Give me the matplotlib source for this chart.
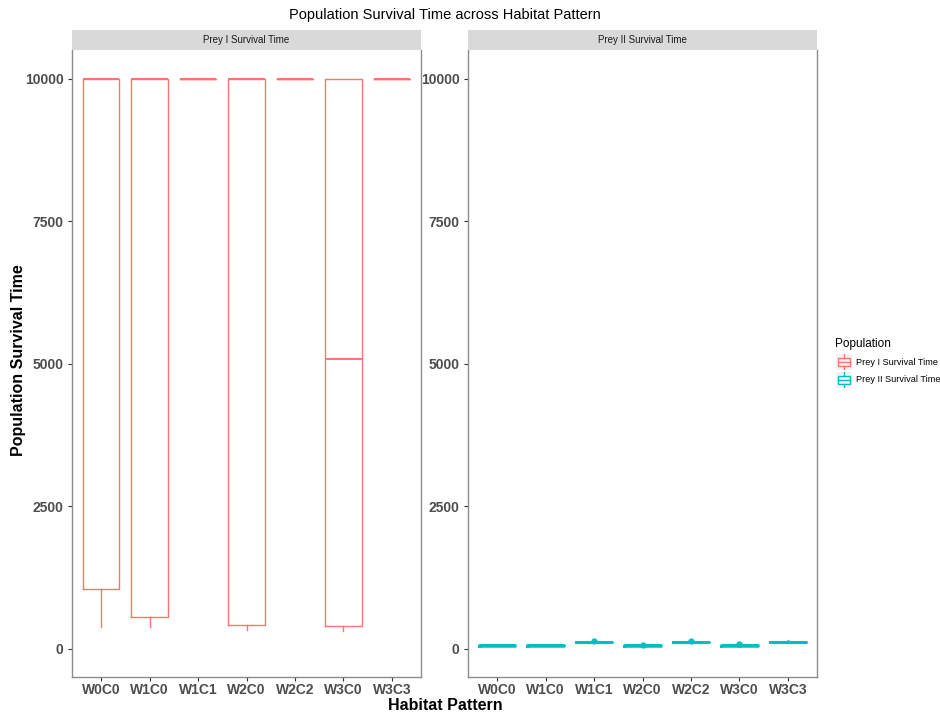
import matplotlib.pyplot as plt

plt.rcParams['font.family'] = ['Liberation Sans', 'DejaVu Sans']

# habitat patterns on the x axis
patterns = ["W0C0", "W1C0", "W1C1", "W2C0", "W2C2", "W3C0", "W3C3"]

# Prey I survival time: five-number summaries per pattern
prey1_low = [370, 370, 10000, 330, 10000, 310, 10000]
prey1_q1 = [1050, 560, 10000, 420, 10000, 400, 10000]
prey1_med = [10000, 10000, 10000, 10000, 10000, 5080, 10000]
prey1_q3 = [10000, 10000, 10000, 10000, 10000, 10000, 10000]
prey1_high = [10000, 10000, 10000, 10000, 10000, 10000, 10000]
prey1_out = [[], [], [], [], [], [], []]

# Prey II survival time
prey2_low = [50, 50, 110, 50, 110, 50, 115]
prey2_q1 = [52, 52, 112, 52, 112, 52, 118]
prey2_med = [55, 55, 115, 55, 115, 55, 120]
prey2_q3 = [58, 58, 118, 58, 118, 58, 122]
prey2_high = [60, 60, 120, 60, 120, 60, 125]
prey2_out = [[], [], [125], [60], [125], [80], []]

panel_titles = ["Prey I Survival Time", "Prey II Survival Time"]
colors = ["#F8766D", "#00BFC4"]

def make_stats(low, q1, med, q3, high, out):
    return [dict(whislo=a, q1=b, med=c, q3=d, whishi=e, fliers=f)
            for a, b, c, d, e, f in zip(low, q1, med, q3, high, out)]

series = [
    make_stats(prey1_low, prey1_q1, prey1_med, prey1_q3, prey1_high, prey1_out),
    make_stats(prey2_low, prey2_q1, prey2_med, prey2_q3, prey2_high, prey2_out),
]

fig = plt.figure(figsize=(9.4, 7.13), dpi=100)
W, H = 940, 713
panels = [(72, 421), (468, 817)]
top, bottom, strip_top = 50, 677, 30
tick_col = "#4D4D4D"
border_col = "#8C8C8C"

for i, ((x0, x1), stats) in enumerate(zip(panels, series)):
    ax = fig.add_axes([x0 / W, 1 - bottom / H, (x1 - x0) / W, (bottom - top) / H])
    c = colors[i]
    lw = 1.0 if i == 0 else 1.8
    ax.bxp(stats, positions=range(1, len(patterns) + 1), widths=0.75,
           showcaps=False,
           boxprops=dict(color=c, linewidth=lw),
           medianprops=dict(color=c, linewidth=lw + 0.4),
           whiskerprops=dict(color=c, linewidth=lw),
           flierprops=dict(marker="o", markerfacecolor=c, markeredgecolor=c,
                           markersize=3.5))
    ax.set_xlim(0.4, 7.6)
    ax.set_ylim(-500, 10500)
    ax.set_yticks([0, 2500, 5000, 7500, 10000])
    ax.set_xticks(range(1, len(patterns) + 1))
    ax.set_xticklabels(patterns)
    for lab in ax.get_xticklabels() + ax.get_yticklabels():
        lab.set_fontweight("bold")
        lab.set_fontsize(10)
        lab.set_color(tick_col)
    ax.tick_params(length=3, color="#333333", width=0.8, pad=3)
    ax.tick_params(axis="x", pad=1.5)
    for side in ["left", "bottom", "right"]:
        ax.spines[side].set_color(border_col)
        ax.spines[side].set_linewidth(1.0)
    ax.spines["top"].set_visible(False)

    # facet strip
    sax = fig.add_axes([x0 / W, 1 - top / H, (x1 - x0) / W, (top - strip_top) / H])
    sax.set_facecolor("#D9D9D9")
    sax.set_xticks([])
    sax.set_yticks([])
    for s in sax.spines.values():
        s.set_visible(False)
    sax.text(0.5, 0.5, panel_titles[i], ha="center", va="center",
             fontsize=7, color="#1A1A1A", transform=sax.transAxes)

fig.text(445 / W, 1 - 15 / H, "Population Survival Time across Habitat Pattern",
         ha="center", va="center", fontsize=10.5, color="black")
fig.text(445 / W, 1 - 705 / H, "Habitat Pattern", ha="center", va="center",
         fontsize=11.5, fontweight="bold")
fig.text(19 / W, 1 - 360 / H, "Population Survival Time", ha="center", va="center",
         rotation=90, fontsize=11.5, fontweight="bold")

# legend
fig.text(835 / W, 1 - 344 / H, "Population", ha="left", va="center", fontsize=8.5)
for j, (name, c) in enumerate(zip(panel_titles, colors)):
    yc = 1 - (362 + j * 18) / H
    lax = fig.add_axes([836 / W, yc - 8 / H, 16 / W, 16 / H])
    lax.set_facecolor("#F2F2F2")
    lax.set_xlim(0, 1)
    lax.set_ylim(0, 1)
    lax.add_patch(plt.Rectangle((0.1, 0.25), 0.8, 0.5, fill=False, edgecolor=c, lw=1))
    lax.plot([0.1, 0.9], [0.5, 0.5], color=c, lw=1)
    lax.plot([0.5, 0.5], [0.0, 0.25], color=c, lw=1)
    lax.plot([0.5, 0.5], [0.75, 1.0], color=c, lw=1)
    lax.set_xticks([])
    lax.set_yticks([])
    for s in lax.spines.values():
        s.set_visible(False)
    fig.text(856 / W, yc, name, ha="left", va="center", fontsize=6.6)

fig.savefig("out.png", dpi=100)
